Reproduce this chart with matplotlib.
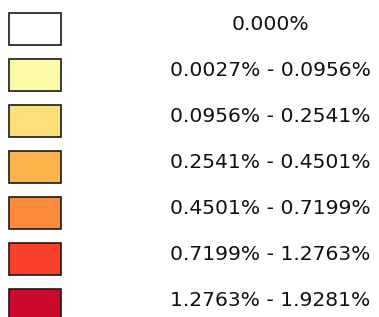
import matplotlib.pyplot as plt

labels = [
    "0.000%",
    "0.0027% - 0.0956%",
    "0.0956% - 0.2541%",
    "0.2541% - 0.4501%",
    "0.4501% - 0.7199%",
    "0.7199% - 1.2763%",
    "1.2763% - 1.9281%",
]
colors = ["#ffffff", "#fefba8", "#fde07a", "#fdb24c", "#fd8b3c", "#f9402a", "#cc0a2e"]

W, H = 379, 317
ROW = 46.0          # pixels between row centres
TOP = 29.0          # centre of first row, pixels from top


def main():
    fig = plt.figure(figsize=(W / 100, H / 100), dpi=100)
    ax = fig.add_axes([0, 0, 1, 1])
    ax.set_xlim(0, W)
    ax.set_ylim((H - TOP) / ROW, -TOP / ROW)
    ax.axis("off")

    rows = list(range(len(labels)))
    ax.barh(rows, 52, left=9, height=32 / ROW, color=colors,
            edgecolor="#1a1a1a", linewidth=1.2)
    for i, label in zip(rows, labels):
        ax.text(270.5, i - 4 / ROW, label, ha="center", va="center",
                fontsize=14.6, family="DejaVu Sans", color="#111111")

    fig.savefig("out.png", dpi=100)


if __name__ == "__main__":
    main()
